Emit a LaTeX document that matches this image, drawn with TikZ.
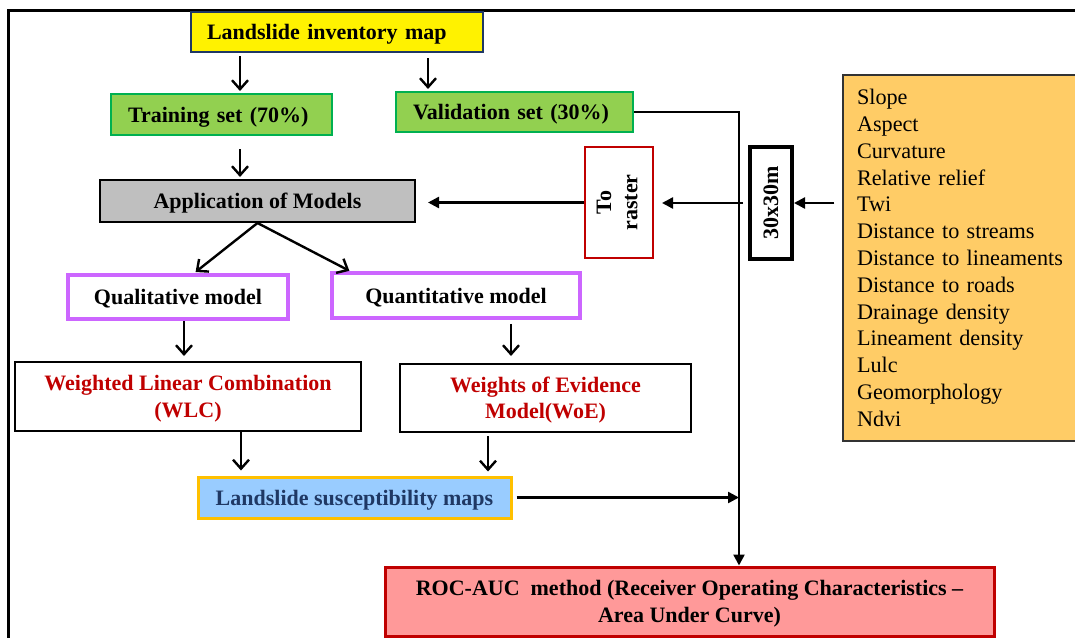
\documentclass[tikz,border=0pt]{standalone}
\usepackage{fontspec}
\setmainfont{Liberation Serif}
\usepackage{graphicx}
\usetikzlibrary{arrows.meta}
\definecolor{navy}{HTML}{1F3864}
\definecolor{ygreen}{HTML}{92D050}
\definecolor{bgreen}{HTML}{00B050}
\definecolor{lgray}{HTML}{BFBFBF}
\definecolor{purp}{HTML}{CC66FF}
\definecolor{dred}{HTML}{C00000}
\definecolor{lblue}{HTML}{99CCFF}
\definecolor{gold}{HTML}{FFC000}
\definecolor{pink}{HTML}{FF9999}
\definecolor{orng}{HTML}{FFCC66}
\tikzset{
  box/.style={draw, line width=1pt, inner sep=0pt, fill=white, text depth=0pt,
    font=\bfseries\fontsize{11}{13.2}\selectfont},
  varrow/.style={line width=1.2pt, -{Straight Barb[length=4.5pt,width=8pt,line width=1.2pt]}},
  harrow/.style={line width=1.2pt, -{Triangle[length=5.5pt,width=5.5pt]}},
}
\begin{document}
\begin{tikzpicture}[x=0.5pt,y=-0.5pt]
\useasboundingbox (0,0) rectangle (1075,637);
% frame
\draw[line width=1.5pt] (8,640) -- (8,10) -- (1080,10);

% nodes
\node[box, draw=navy, fill=yellow, minimum width=146pt, minimum height=20pt,
      text width=130pt, align=left] (inv) at (337,32) {Landslide inventory map};
\node[box, draw=bgreen, fill=ygreen, minimum width=110.5pt, minimum height=20.5pt,
      text width=93.5pt, align=left] (train) at (221.5,114.5) {Training set (70\%)};
\node[box, draw=bgreen, fill=ygreen, minimum width=118.5pt, minimum height=20pt,
      text width=101.5pt, align=left] (valid) at (514.5,112) {Validation set (30\%)};
\node[box, fill=lgray, minimum width=157.5pt, minimum height=21pt] (app) at (257.5,201) {Application of Models};
\node[box, draw=dred, minimum width=34pt, minimum height=55.5pt] (raster) at (619,202.5)
      {\rotatebox{90}{\begin{tabular}{@{}c@{}}To\\raster\end{tabular}}};
\node[box, line width=2pt, minimum width=21pt, minimum height=56pt] (grid) at (771,203)
      {\rotatebox{90}{30x30m}};
\node[draw=black!80, line width=0.7pt, fill=orng, minimum width=121pt, minimum height=183pt,
      inner xsep=7pt, inner ysep=0pt, text width=107pt, align=left,
      font=\fontsize{11.1}{13.4}\selectfont] (params) at (964,258)
      {Slope\\Aspect\\Curvature\\Relative relief\\Twi\\Distance to streams\\Distance to lineaments\\Distance to roads\\Drainage density\\Lineament density\\Lulc\\Geomorphology\\Ndvi};
\node[box, draw=purp, line width=1.75pt, minimum width=110pt, minimum height=22pt] (qual) at (178,297) {Qualitative model};
\node[box, draw=purp, line width=1.75pt, minimum width=124pt, minimum height=22.5pt] (quant) at (456,295.5) {Quantitative model};
\node[box, text=dred, minimum width=173pt, minimum height=34.5pt, align=center] (wlc) at (188,396.5)
      {Weighted Linear Combination\\(WLC)};
\node[box, text=dred, minimum width=145.5pt, minimum height=34pt, align=center] (woe) at (545.5,398)
      {Weights of Evidence\\Model(WoE)};
\node[box, draw=gold, fill=lblue, text=navy, line width=1.5pt, minimum width=156.5pt, minimum height=20.5pt] (lsm) at (354.5,497.5)
      {Landslide susceptibility maps};
\node[box, draw=dred, fill=pink, line width=1.5pt, minimum width=304.5pt, minimum height=34.5pt, align=center] (roc) at (689.5,601.5)
      {ROC-AUC\ \ method (Receiver Operating Characteristics --\\Area Under Curve)};
\coordinate (vline) at (739,0);

% vertical arrows
\draw[varrow, shorten <=1.5pt, shorten >=1pt] (inv.south -| 240,0) -- (train.north -| 240,0);
\draw[varrow, shorten <=2.5pt, shorten >=1pt] (inv.south -| 428,0) -- (valid.north -| 428,0);
\draw[varrow, shorten <=6.5pt, shorten >=1pt] (train.south -| 240,0) -- (app.north -| 240,0);
\draw[varrow, shorten >=1pt] (app.south) -- ([xshift=8pt]qual.north);
\draw[varrow, shorten >=0.5pt] (app.south) -- ([xshift=10pt]quant.north west);
\draw[varrow, shorten >=2.5pt] (qual.south -| 184,0) -- (wlc.north -| 184,0);
\draw[varrow, shorten <=2pt, shorten >=3.5pt] (quant.south -| 511,0) -- (woe.north -| 511,0);
\draw[varrow, shorten >=2.5pt] (wlc.south -| 241,0) -- (lsm.north -| 241,0);
\draw[varrow, shorten <=1.5pt, shorten >=2pt] (woe.south -| 488,0) -- (lsm.north -| 488,0);

% horizontal arrows
\draw[harrow, shorten >=6pt] (raster.west) -- (app.east |- raster.west);
\draw[harrow, shorten >=4pt] ([xshift=-2.5pt]grid.west) -- (raster.east |- grid.west);
\draw[harrow, shorten <=4pt] (params.west |- grid.east) -- (grid.east);
\draw[harrow, shorten <=2pt] (lsm.east) -- (lsm.east -| vline);
\draw[harrow] (valid.east) -| (roc.north -| vline);
\end{tikzpicture}
\end{document}
